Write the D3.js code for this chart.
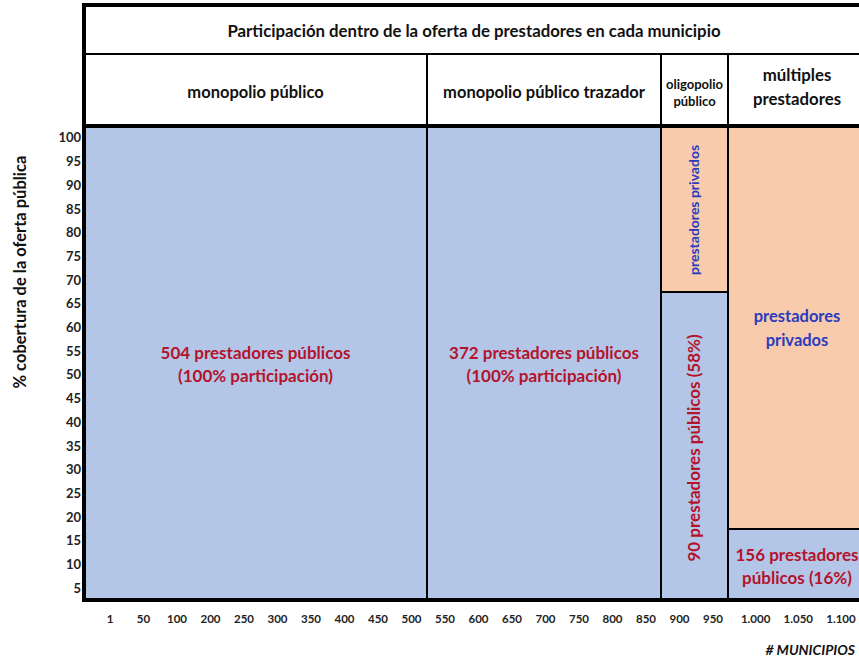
<!DOCTYPE html>
<html>
<head>
<meta charset="utf-8">
<script src="https://cdn.jsdelivr.net/npm/d3@7"></script>
<style>
  body { margin: 0; background: #fff; }
  svg { display: block; font-family: Lato, "Open Sans", sans-serif; font-weight: bold; }
</style>
</head>
<body>
<div id="chart"></div>
<script>
// data
const segments = ['monopolio público', 'monopolio público trazador', 'oligopolio público', 'múltiples prestadores'];
const headerLines = [['monopolio público'], ['monopolio público trazador'], ['oligopolio', 'público'], ['múltiples', 'prestadores']];
const municipios = [504, 372, 90, 156];
const publicShare = [100, 100, 65, 15];   // % de la columna cubierta por prestadores públicos
const publicLabels = [
  ['504 prestadores públicos', '(100% participación)'],
  ['372 prestadores públicos', '(100% participación)'],
  ['90 prestadores públicos (58%)'],
  ['156 prestadores', 'públicos (16%)']
];
const privateLabels = [null, null, ['prestadores privados'], ['prestadores', 'privados']];
const xTickLabels = ['1', '50', '100', '200', '250', '300', '350', '400', '450', '500', '550', '600',
  '650', '700', '750', '800', '850', '900', '950', '1.000', '1.050', '1.100'];
const yTicks = [100, 95, 90, 85, 80, 75, 70, 65, 60, 55, 50, 45, 40, 35, 30, 25, 20, 15, 10, 5];

const width = 859, height = 662;
const blue = '#b4c6e7', orange = '#f8cbad', red = '#b3132b', blueText = '#2b3bbd';

const svg = d3.select('#chart').append('svg').attr('width', width).attr('height', height);

// cumulative boundaries of each column
const cum = [0];
municipios.forEach(m => cum.push(cum[cum.length - 1] + m));
const cols = segments.map((s, i) => ({ name: s, x0: cum[i], x1: cum[i + 1], pub: publicShare[i], i: i }));

// column widths in the original are not proportional, so piecewise scale
const x = d3.scaleLinear().domain(cum).range([84, 427, 661, 728, 866]);
const y = d3.scaleLinear().domain([0, 100]).range([600, 126]);
const headTop = 5, headMid = 54;

// public (blue) part
svg.selectAll('.pub').data(cols).enter().append('rect')
  .attr('x', d => x(d.x0)).attr('width', d => x(d.x1) - x(d.x0))
  .attr('y', d => y(d.pub)).attr('height', d => y(0) - y(d.pub))
  .attr('fill', blue);

// private (orange) part
svg.selectAll('.priv').data(cols.filter(d => d.pub < 100)).enter().append('rect')
  .attr('x', d => x(d.x0)).attr('width', d => x(d.x1) - x(d.x0))
  .attr('y', y(100)).attr('height', d => y(d.pub) - y(100))
  .attr('fill', orange);

// split lines
svg.selectAll('.split').data(cols.filter(d => d.pub < 100)).enter().append('line')
  .attr('x1', d => x(d.x0)).attr('x2', d => x(d.x1))
  .attr('y1', d => y(d.pub)).attr('y2', d => y(d.pub))
  .attr('stroke', '#000').attr('stroke-width', 2);

// vertical dividers
svg.selectAll('.vdiv').data(cum.slice(1, -1)).enter().append('line')
  .attr('x1', d => x(d)).attr('x2', d => x(d))
  .attr('y1', headMid).attr('y2', y(0))
  .attr('stroke', '#000').attr('stroke-width', 2);

// frame lines
svg.append('line').attr('x1', x(0)).attr('x2', width).attr('y1', headTop).attr('y2', headTop).attr('stroke', '#000').attr('stroke-width', 4);
svg.append('line').attr('x1', x(0)).attr('x2', width).attr('y1', headMid).attr('y2', headMid).attr('stroke', '#000').attr('stroke-width', 2);
svg.append('line').attr('x1', x(0)).attr('x2', width).attr('y1', y(100)).attr('y2', y(100)).attr('stroke', '#000').attr('stroke-width', 4);
svg.append('line').attr('x1', x(0)).attr('x2', width).attr('y1', y(0)).attr('y2', y(0)).attr('stroke', '#000').attr('stroke-width', 4);
svg.append('line').attr('x1', x(0)).attr('x2', x(0)).attr('y1', headTop - 2).attr('y2', y(0) + 2).attr('stroke', '#000').attr('stroke-width', 4);

// helper for multi-line centered text
function lines(g, arr, cx, cy, size, color, lh, rotate) {
  const t = g.append('text')
    .attr('text-anchor', 'middle')
    .attr('font-size', size)
    .attr('fill', color)
    .attr('transform', `translate(${cx},${cy})` + (rotate ? ' rotate(-90)' : ''));
  arr.forEach((s, k) => {
    t.append('tspan').attr('x', 0)
      .attr('y', (k - (arr.length - 1) / 2) * lh)
      .attr('dy', '0.35em').text(s);
  });
}

// headers
lines(svg, ['Participación dentro de la oferta de prestadores en cada municipio'], 474, 31, 16.8, '#111', 0);
const headSize = [16.5, 16.5, 13, 16.8];
const headY = [92, 92, 92.5, 87];
const headLh = [0, 0, 17, 24];
cols.forEach(d => {
  const cx = (x(d.x0) + x(d.x1)) / 2;
  lines(svg, headerLines[d.i], cx, headY[d.i], headSize[d.i], '#111', headLh[d.i]);
});

// segment labels
cols.forEach(d => {
  const cx = (x(d.x0) + x(d.x1)) / 2;
  const rot = d.i === 2;
  lines(svg, publicLabels[d.i], cx, (y(d.pub) + y(0)) / 2 + 2, 17, red, 23, rot);
  if (privateLabels[d.i]) {
    lines(svg, privateLabels[d.i], cx, (y(100) + y(d.pub)) / 2 + 1, rot ? 14 : 16.5, blueText, 24, rot);
  }
});

// y tick labels (centered in each 5% row)
svg.selectAll('.ytick').data(yTicks).enter().append('text')
  .attr('x', 81).attr('y', d => y(d - 2.5)).attr('dy', '0.35em')
  .attr('text-anchor', 'end').attr('font-size', 13).attr('fill', '#222')
  .text(d => d);

// x tick labels, evenly placed by index
const xt = d3.scaleLinear().domain([0, 18, 21]).range([110, 713, 841]);
svg.selectAll('.xtick').data(xTickLabels).enter().append('text')
  .attr('x', (d, i) => xt(i)).attr('y', 619).attr('dy', '0.35em')
  .attr('text-anchor', 'middle').attr('font-size', 11.5).attr('fill', '#222')
  .text(d => d);

// axis titles
svg.append('text')
  .attr('transform', 'translate(20,272) rotate(-90)')
  .attr('text-anchor', 'middle').attr('dy', '0.35em')
  .attr('font-size', 16.5).attr('fill', '#111')
  .text('% cobertura de la oferta pública');

svg.append('text')
  .attr('x', 855).attr('y', 650).attr('dy', '0.35em')
  .attr('text-anchor', 'end').attr('font-size', 14).attr('font-style', 'italic').attr('fill', '#111')
  .text('# MUNICIPIOS');
</script>
</body>
</html>
